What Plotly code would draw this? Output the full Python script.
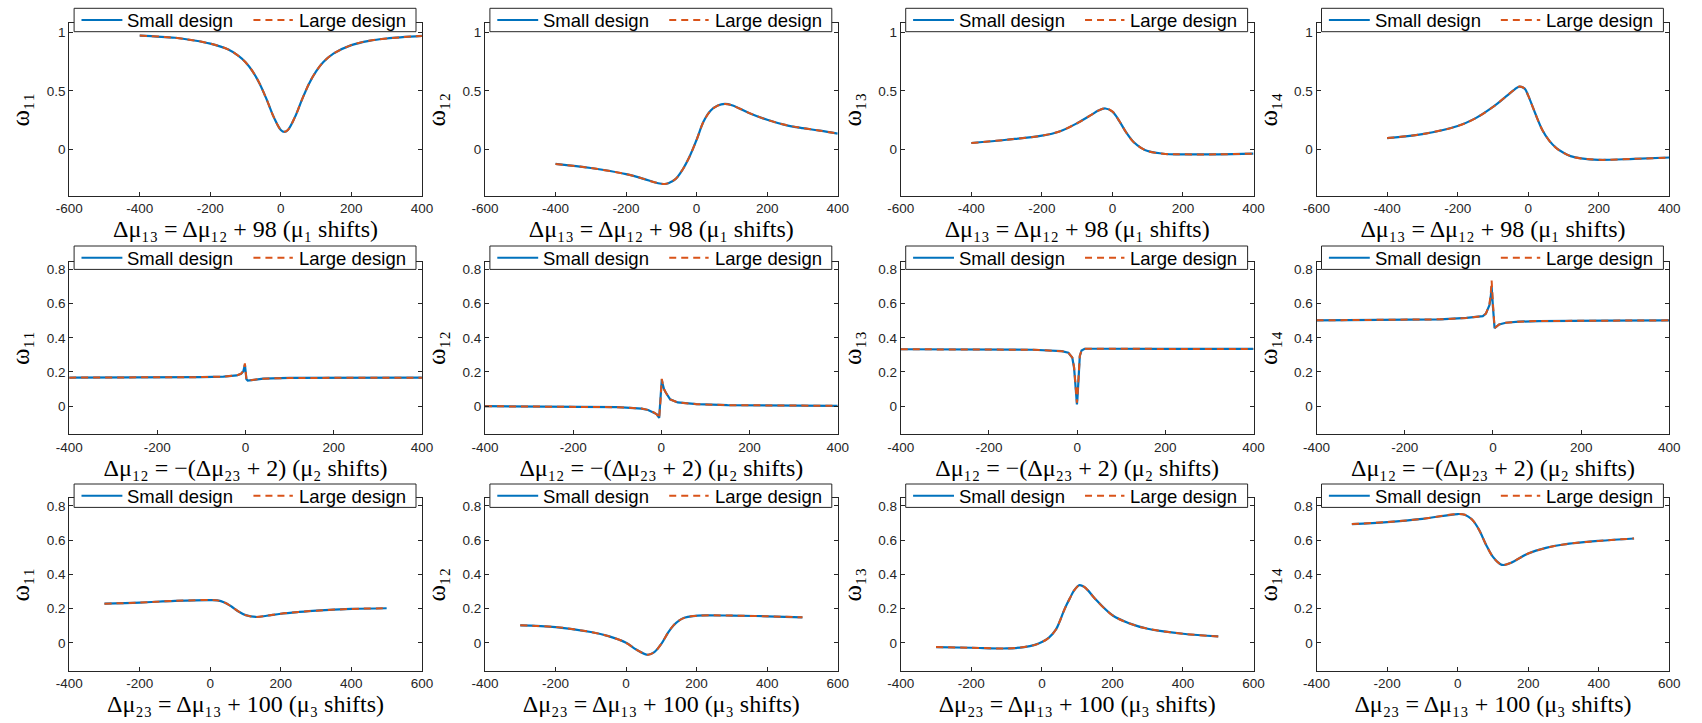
import plotly.graph_objects as go

W, H = 1702, 723

# ---------------- data ----------------
# Row 1: x = Δμ13 = Δμ12 + 98 (μ1 shifts)
x_r1c1 = [-400, -300, -250, -200, -150, -120, -100, -80, -60, -40, -20, 0, 10, 20, 40, 60, 80, 100, 120, 150, 200, 250, 300, 400]
w11_r1 = [0.975, 0.956, 0.935, 0.906, 0.857, 0.80, 0.746, 0.668, 0.563, 0.426, 0.276, 0.166, 0.15, 0.166, 0.276, 0.426, 0.563, 0.668, 0.746, 0.822, 0.893, 0.93, 0.95, 0.972]

x_r1c2 = [-400, -300, -200, -150, -120, -100, -90, -80, -60, -40, -20, 0, 20, 40, 60, 80, 100, 150, 200, 250, 300, 350, 400]
w12_r1 = [-0.125, -0.16, -0.213, -0.253, -0.282, -0.295, -0.297, -0.29, -0.255, -0.175, -0.062, 0.082, 0.24, 0.332, 0.375, 0.389, 0.378, 0.31, 0.253, 0.21, 0.182, 0.16, 0.134]

x_r1c3 = [-400, -300, -200, -150, -100, -60, -40, -20, 0, 20, 40, 60, 80, 100, 150, 200, 300, 400]
w13_r1 = [0.054, 0.082, 0.117, 0.153, 0.224, 0.295, 0.332, 0.35, 0.324, 0.24, 0.14, 0.062, 0.015, -0.015, -0.04, -0.043, -0.043, -0.037]

x_r1c4 = [-400, -300, -200, -150, -100, -60, -40, -25, -10, 0, 20, 40, 60, 80, 100, 120, 150, 200, 300, 400]
w14_r1 = [0.096, 0.13, 0.2, 0.265, 0.363, 0.46, 0.51, 0.538, 0.52, 0.46, 0.307, 0.166, 0.072, 0.01, -0.03, -0.058, -0.078, -0.09, -0.082, -0.07]

# Row 2: x = Δμ12 = -(Δμ23 + 2) (μ2 shifts)
x_r2c1 = [-400, -300, -200, -100, -50, -20, -10, -5, -1.5, 0, 2, 5, 10, 20, 40, 100, 200, 300, 400]
w11_r2_small = [0.167, 0.167, 0.168, 0.17, 0.173, 0.18, 0.19, 0.205, 0.243, 0.2, 0.158, 0.15, 0.152, 0.157, 0.161, 0.165, 0.166, 0.167, 0.167]
w11_r2_large = [0.167, 0.167, 0.168, 0.17, 0.173, 0.18, 0.19, 0.207, 0.25, 0.205, 0.158, 0.15, 0.152, 0.157, 0.161, 0.165, 0.166, 0.167, 0.167]

x_r2c2 = [-400, -200, -100, -80, -45, -30, -16, -10, -5, -2, 1, 3, 6, 10, 20, 37, 80, 150, 250, 400]
w12_r2_small = [0.0, -0.002, -0.006, -0.008, -0.014, -0.022, -0.037, -0.048, -0.068, 0.03, 0.155, 0.13, 0.1, 0.08, 0.04, 0.022, 0.012, 0.006, 0.003, 0.002]
w12_r2_large = [0.0, -0.002, -0.006, -0.008, -0.014, -0.022, -0.037, -0.05, -0.072, 0.03, 0.16, 0.133, 0.1, 0.08, 0.04, 0.022, 0.012, 0.006, 0.003, 0.002]

x_r2c3 = [-400, -200, -100, -35, -20, -11, -7, -4, -1.5, -0.5, 0.8, 3, 6, 10, 17, 40, 100, 200, 400]
w13_r2_small = [0.333, 0.332, 0.33, 0.322, 0.313, 0.283, 0.225, 0.128, 0.03, 0.01, 0.05, 0.186, 0.293, 0.326, 0.336, 0.336, 0.335, 0.335, 0.335]
w13_r2_large = [0.333, 0.332, 0.33, 0.322, 0.313, 0.285, 0.23, 0.135, 0.04, 0.02, 0.06, 0.19, 0.295, 0.326, 0.336, 0.336, 0.335, 0.335, 0.335]

x_r2c4 = [-400, -269, -120, -60, -38, -23, -16, -8, -5, -3, 0, 3.7, 14, 29, 59, 104, 253, 400]
w14_r2_small = [0.502, 0.504, 0.508, 0.516, 0.52, 0.527, 0.541, 0.59, 0.64, 0.698, 0.58, 0.457, 0.478, 0.488, 0.494, 0.498, 0.5, 0.502]
w14_r2_large = [0.502, 0.504, 0.508, 0.516, 0.52, 0.527, 0.541, 0.595, 0.66, 0.735, 0.6, 0.457, 0.478, 0.488, 0.494, 0.498, 0.5, 0.502]

# Row 3: x = Δμ23 = Δμ13 + 100 (μ3 shifts)
x_r3c1 = [-300, -200, -100, 0, 20, 40, 60, 80, 100, 130, 160, 200, 250, 300, 400, 500]
w11_r3 = [0.229, 0.235, 0.245, 0.25, 0.248, 0.236, 0.212, 0.183, 0.162, 0.151, 0.158, 0.17, 0.18, 0.188, 0.198, 0.202]

x_r3c2 = [-300, -200, -100, -50, 0, 30, 62, 80, 100, 120, 135, 150, 165, 190, 220, 300, 400, 500]
w12_r3 = [0.102, 0.092, 0.063, 0.039, 0.0, -0.041, -0.07, -0.055, -0.006, 0.063, 0.103, 0.13, 0.146, 0.156, 0.16, 0.159, 0.155, 0.149]

x_r3c3 = [-300, -200, -100, -50, -20, 0, 20, 40, 50, 60, 70, 80, 90, 100, 107, 120, 130, 150, 200, 250, 300, 400, 500]
w13_r3 = [-0.025, -0.029, -0.033, -0.025, -0.012, 0.004, 0.03, 0.078, 0.122, 0.175, 0.222, 0.263, 0.302, 0.328, 0.337, 0.327, 0.308, 0.259, 0.161, 0.112, 0.082, 0.053, 0.037]

x_r3c4 = [-300, -200, -100, 0, 20, 40, 60, 80, 100, 120, 130, 150, 200, 250, 300, 400, 500]
w14_r3 = [0.694, 0.706, 0.725, 0.753, 0.749, 0.722, 0.663, 0.575, 0.502, 0.461, 0.455, 0.467, 0.522, 0.555, 0.575, 0.596, 0.61]

# axis ticks / labels
xticks_r1 = [-600, -400, -200, 0, 200, 400]
xticks_r2 = [-400, -200, 0, 200, 400]
xticks_r3 = [-400, -200, 0, 200, 400, 600]
yticks_r1 = [0, 0.5, 1]
yticks_r23 = [0, 0.2, 0.4, 0.6, 0.8]
ylabels = ["ω₁₁", "ω₁₂", "ω₁₃", "ω₁₄"]
xlabels = [
    "Δμ₁₃ = Δμ₁₂ + 98 (μ₁ shifts)",
    "Δμ₁₂ = −(Δμ₂₃ + 2) (μ₂ shifts)",
    "Δμ₂₃ = Δμ₁₃ + 100 (μ₃ shifts)",
]
series_names = ["Small design", "Large design"]

rows = [
    [(x_r1c1, w11_r1, w11_r1), (x_r1c2, w12_r1, w12_r1), (x_r1c3, w13_r1, w13_r1), (x_r1c4, w14_r1, w14_r1)],
    [(x_r2c1, w11_r2_small, w11_r2_large), (x_r2c2, w12_r2_small, w12_r2_large),
     (x_r2c3, w13_r2_small, w13_r2_large), (x_r2c4, w14_r2_small, w14_r2_large)],
    [(x_r3c1, w11_r3, w11_r3), (x_r3c2, w12_r3, w12_r3), (x_r3c3, w13_r3, w13_r3), (x_r3c4, w14_r3, w14_r3)],
]
xranges = [[-600, 400], [-400, 400], [-400, 600]]
yranges = [[-0.4, 1.08], [-0.165, 0.845], [-0.165, 0.845]]
xticks = [xticks_r1, xticks_r2, xticks_r3]
yticks = [yticks_r1, yticks_r23, yticks_r23]


def fmt(v):
    return f"{v:g}"  # plain hyphen-minus like the reference


# ---------------- layout geometry (pixels) ----------------
col_left = [56, 478, 900, 1322]
col_w = 358
row_top = [23.3, 261.7, 498.3]
row_h = 172.7
legend_top = [8.3, 246.0, 484.0]
legend_h = 23.4

BLUE = "#0072BD"
ORANGE = "#D95319"
AX = "#262626"
DASH = "7px,5px"


def px(xp):
    return xp / W


def py(yp):
    return 1 - yp / H


fig = go.Figure()
layout = {}
shapes = []
annotations = []
n = 0
for r in range(3):
    for c in range(4):
        n += 1
        xs, ys_small, ys_large = rows[r][c]
        xa = "x" if n == 1 else f"x{n}"
        ya = "y" if n == 1 else f"y{n}"
        shape = "linear" if r == 1 else "spline"
        fig.add_trace(go.Scatter(x=xs, y=ys_small, mode="lines", name=series_names[0], showlegend=False,
                                 line=dict(color=BLUE, width=2.2, shape=shape, smoothing=1.0),
                                 xaxis=xa, yaxis=ya))
        fig.add_trace(go.Scatter(x=xs, y=ys_large, mode="lines", name=series_names[1], showlegend=False,
                                 line=dict(color=ORANGE, width=2, dash=DASH, shape=shape, smoothing=1.0),
                                 xaxis=xa, yaxis=ya))
        x0 = px(col_left[c])
        x1 = px(col_left[c] + col_w)
        y1 = py(row_top[r])
        y0 = py(row_top[r] + row_h)
        common = dict(showline=True, linecolor=AX, linewidth=1, mirror="ticks", ticks="inside",
                      ticklen=4, tickcolor=AX, tickwidth=1, showgrid=False, zeroline=False,
                      tickfont=dict(family="Liberation Sans, Arial", size=13.5, color=AX))
        layout["xaxis" if n == 1 else f"xaxis{n}"] = dict(
            domain=[x0, x1], anchor=ya, range=xranges[r], tickvals=xticks[r],
            ticktext=[fmt(v) for v in xticks[r]],
            title=dict(text=xlabels[r], standoff=0,
                       font=dict(family="Liberation Serif, DejaVu Serif", size=24, color="#000000")),
            **common)
        layout["yaxis" if n == 1 else f"yaxis{n}"] = dict(
            domain=[y0, y1], anchor=xa, range=yranges[r], tickvals=yticks[r],
            ticktext=[fmt(v) for v in yticks[r]],
            title=dict(text=ylabels[c], standoff=9,
                       font=dict(family="Liberation Serif, DejaVu Serif", size=25, color="#000000")),
            **common)

        # legend box (drawn on top of the axes, like the reference)
        lx = col_left[c]
        lt = legend_top[r]
        lc = lt + legend_h / 2
        shapes.append(dict(type="rect", xref="paper", yref="paper", layer="above",
                           x0=px(lx + 5), x1=px(lx + 352), y0=py(lt + legend_h), y1=py(lt),
                           fillcolor="white", line=dict(color=AX, width=1)))
        shapes.append(dict(type="line", xref="paper", yref="paper", layer="above",
                           x0=px(lx + 12.5), x1=px(lx + 54), y0=py(lc), y1=py(lc),
                           line=dict(color=BLUE, width=2)))
        shapes.append(dict(type="line", xref="paper", yref="paper", layer="above",
                           x0=px(lx + 187), x1=px(lx + 227), y0=py(lc), y1=py(lc),
                           line=dict(color=ORANGE, width=2, dash=DASH)))
        for tx, name in ((lx + 57, series_names[0]), (lx + 231, series_names[1])):
            annotations.append(dict(xref="paper", yref="paper", x=px(tx), y=py(lc + 0.5),
                                    xanchor="left", yanchor="middle", showarrow=False, text=name,
                                    font=dict(family="Liberation Sans, Arial", size=18.5, color="#000000")))

fig.update_layout(width=W, height=H, margin=dict(l=0, r=0, t=0, b=0),
                  paper_bgcolor="white", plot_bgcolor="white", showlegend=False,
                  shapes=shapes, annotations=annotations, **layout)
fig.write_html("out.html")
